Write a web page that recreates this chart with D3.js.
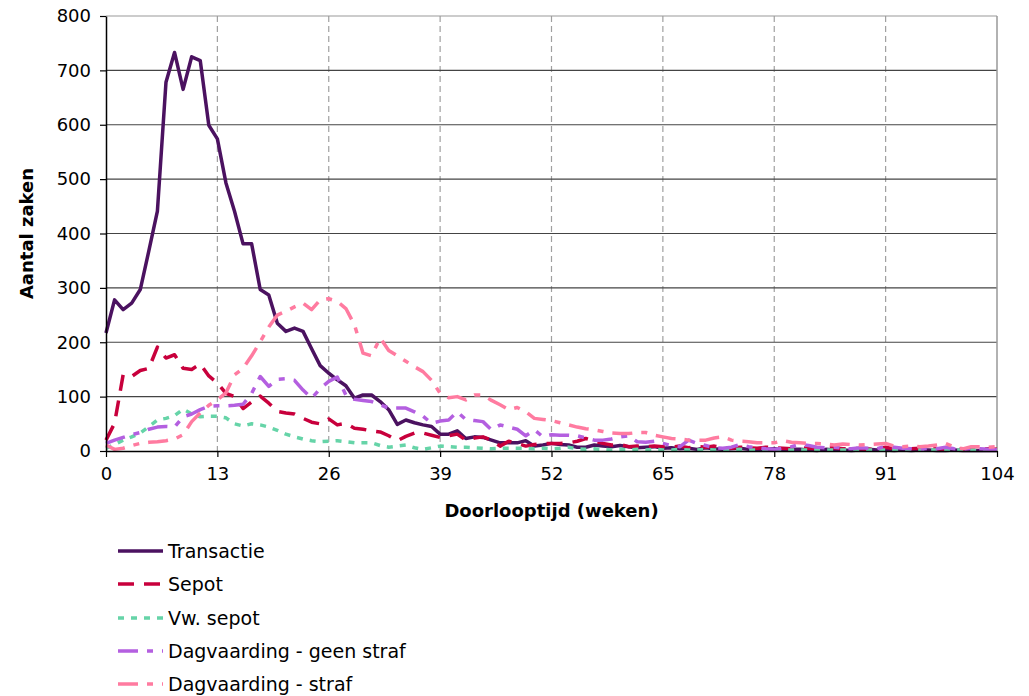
<!DOCTYPE html>
<html>
<head>
<meta charset="utf-8">
<script src="https://cdn.jsdelivr.net/npm/d3@7"></script>
<style>
  html, body { margin: 0; padding: 0; background: #fff; }
  svg { display: block; font-family: "DejaVu Sans", Verdana, sans-serif; }
</style>
</head>
<body>
<svg id="chart" width="1029" height="696"></svg>
<script>
// ---- data ----
const weeks = d3.range(0, 105);
const xTicks = [0, 13, 26, 39, 52, 65, 78, 91, 104];
const yTicks = [0, 100, 200, 300, 400, 500, 600, 700, 800];
const seriesNames = ["Transactie", "Sepot", "Vw. sepot", "Dagvaarding - geen straf", "Dagvaarding - straf"];

const transactie = [217,278,260,272,297,368,441,678,733,665,725,718,599,574,493,441,381,381,297,287,
  235,220,226,220,188,157,143,131,120,97,103,103,91,76,49,57,52,48,45,31,
  31,37,23,26,25,20,15,15,15,19,9,11,14,12,11,7,7,11,9,8,
  10,8,6,7,8,5,6,4,5,3,6,4,3,4,5,3,2,3,4,2,
  3,3,2,1,3,2,2,1,2,3,2,2,1,2,1,2,2,1,1,2,
  1,1,1,1,1];
const sepot = [20,51,140,137,148,152,191,171,177,152,150,160,138,125,106,100,78,90,101,88,
  73,70,68,60,53,50,59,48,51,42,40,37,35,28,19,27,33,33,29,25,
  28,31,20,24,26,20,9,18,14,9,12,14,14,14,15,18,23,18,14,11,
  12,8,9,8,9,8,7,9,6,8,7,9,6,5,7,6,5,7,6,5,
  4,6,5,4,5,6,4,5,4,3,4,7,4,3,4,5,3,4,3,4,
  3,6,3,4,3];
const vwSepot = [5,12,20,26,33,45,57,60,65,77,68,63,64,64,61,50,46,50,48,44,
  38,31,26,22,19,17,18,19,17,15,15,15,10,7,9,11,6,3,6,9,
  8,7,7,6,5,4,5,5,5,5,4,5,4,5,7,4,3,4,3,2,
  3,2,3,2,3,2,2,3,2,2,3,2,2,2,3,2,2,2,2,2,
  2,2,2,2,2,2,2,2,2,2,2,2,2,2,2,2,2,2,2,2,
  2,2,2,2,2];
const geenStraf = [14,20,25,30,34,40,44,45,44,63,68,76,82,83,83,84,86,106,137,119,
  132,133,130,112,97,115,128,136,103,95,93,91,85,79,79,79,72,64,51,55,
  57,72,58,56,54,39,48,44,40,28,39,26,30,29,29,28,24,20,20,22,
  26,28,17,16,18,14,10,8,20,14,10,6,5,7,12,8,6,4,3,5,
  8,12,10,7,6,7,5,4,6,5,4,9,7,5,4,3,5,4,7,4,
  3,5,4,3,2];
const straf = [11,3,5,10,14,16,17,19,22,30,54,70,84,94,107,140,152,175,201,228,
  250,257,265,272,260,278,280,275,262,232,180,175,208,185,175,165,155,146,130,106,
  98,100,94,103,103,93,85,76,80,72,60,58,56,52,48,44,41,39,36,33,
  32,32,34,34,29,26,23,22,20,20,20,24,26,20,18,17,15,15,15,19,
  16,15,14,14,13,11,13,12,11,12,13,14,9,8,9,8,9,11,14,7,
  4,8,8,7,8];

const colors = ["#4b1260", "#c8003c", "#66d4a8", "#b45fe0", "#ff7ba0"];
const dashes = [null, "16,10", "6,7", "20,9,6,9", "20,9,6,9"];
const seriesValues = [transactie, sepot, vwSepot, geenStraf, straf];

// ---- layout ----
const svg = d3.select("#chart");
const L = 106, R = 997, T = 16, B = 451;
const x = d3.scaleLinear().domain([0, 104]).range([L, R]);
const y = d3.scaleLinear().domain([0, 800]).range([B, T]);

// vertical dashed gridlines
svg.append("g").selectAll("line").data(xTicks.filter(d => d > 0 && d < 104)).join("line")
  .attr("x1", d => x(d)).attr("x2", d => x(d))
  .attr("y1", T).attr("y2", B)
  .attr("stroke", "#a0a0a0").attr("stroke-width", 1.2).attr("stroke-dasharray", "6,4");

// horizontal gridlines
svg.append("g").selectAll("line").data(yTicks.filter(d => d > 0)).join("line")
  .attr("x1", L).attr("x2", R)
  .attr("y1", d => y(d)).attr("y2", d => y(d))
  .attr("stroke", d => d === 800 ? "#999" : "#444").attr("stroke-width", 1.2);

// right border
svg.append("line").attr("x1", R).attr("x2", R).attr("y1", T).attr("y2", B)
  .attr("stroke", "#999").attr("stroke-width", 1.5);

// series lines
const line = d3.line().x((d, i) => x(weeks[i])).y(d => y(d));
seriesValues.forEach((vals, k) => {
  svg.append("path").datum(vals)
    .attr("d", line)
    .attr("fill", "none")
    .attr("stroke", colors[k])
    .attr("stroke-width", 3.5)
    .attr("stroke-linejoin", "round")
    .attr("stroke-dasharray", dashes[k]);
});

// axes
const xAxis = d3.axisBottom(x).tickValues(xTicks).tickSize(6).tickSizeOuter(0).tickPadding(10);
const gx = svg.append("g").attr("transform", `translate(0,${B})`).call(xAxis);
gx.select(".domain").attr("stroke", "#000").attr("stroke-width", 1.5);
gx.selectAll(".tick line").attr("stroke", "#000").attr("stroke-width", 1.2);
gx.selectAll("text").attr("font-size", 18).attr("fill", "#000").attr("font-family", "DejaVu Sans, sans-serif");

const yAxis = d3.axisLeft(y).tickValues(yTicks).tickSize(6).tickSizeOuter(0).tickPadding(9);
const gy = svg.append("g").attr("transform", `translate(${L},0)`).call(yAxis);
gy.select(".domain").attr("stroke", "#000").attr("stroke-width", 1.5);
gy.selectAll(".tick line").attr("stroke", "#000").attr("stroke-width", 1.2);
gy.selectAll("text").attr("font-size", 18).attr("fill", "#000").attr("font-family", "DejaVu Sans, sans-serif");

// axis titles
svg.append("text").attr("x", (L + R) / 2 - 0).attr("y", 517)
  .attr("text-anchor", "middle").attr("font-size", 18).attr("font-weight", "bold")
  .text("Doorlooptijd (weken)");
svg.append("text")
  .attr("transform", `translate(33,${(T + B) / 2}) rotate(-90)`)
  .attr("text-anchor", "middle").attr("font-size", 18).attr("font-weight", "bold")
  .text("Aantal zaken");

// legend
const legY = [551, 584, 618, 651, 684];
const lg = svg.append("g");
seriesNames.forEach((name, k) => {
  lg.append("line").attr("x1", 118).attr("x2", 163)
    .attr("y1", legY[k]).attr("y2", legY[k])
    .attr("stroke", colors[k]).attr("stroke-width", 3.5)
    .attr("stroke-dasharray", dashes[k]);
  lg.append("text").attr("x", 168).attr("y", legY[k] + 7)
    .attr("font-size", 19).attr("fill", "#000").text(name);
});
</script>
</body>
</html>
